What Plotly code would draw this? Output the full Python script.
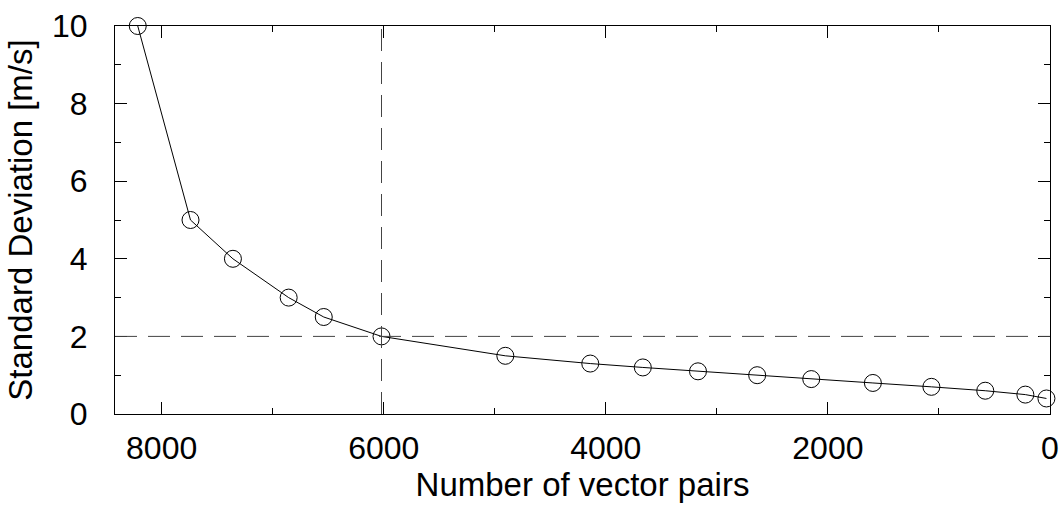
import plotly.graph_objects as go

# Data
pairs = [8215, 7740, 7358, 6856, 6540, 6020, 4905, 4140, 3667, 3170, 2637, 2150, 1595, 1068, 583, 222, 32]
std_dev = [10, 5, 4, 3, 2.5, 2, 1.5, 1.3, 1.2, 1.1, 1.0, 0.9, 0.8, 0.7, 0.6, 0.5, 0.4]
threshold_pairs = 6020
threshold_std = 2
x_tickvals = [8000, 6000, 4000, 2000, 0]
y_tickvals = [0, 2, 4, 6, 8, 10]

FONT = "Liberation Sans, Arial, Helvetica, sans-serif"

fig = go.Figure()
fig.add_trace(go.Scatter(
    x=pairs, y=std_dev, mode="lines+markers",
    line=dict(color="black", width=1),
    marker=dict(symbol="circle-open", size=17, color="black", line=dict(width=1, color="black")),
    showlegend=False, cliponaxis=False,
))

fig.add_shape(type="line", xref="x", yref="paper", x0=threshold_pairs, x1=threshold_pairs, y0=0, y1=1,
              line=dict(color="#444", width=1, dash="22px,11px"))
fig.add_shape(type="line", xref="paper", yref="y", x0=0, x1=1, y0=threshold_std, y1=threshold_std,
              line=dict(color="#444", width=1, dash="22px,11px"))

axis_common = dict(
    showline=True, linecolor="black", linewidth=1, mirror="ticks",
    ticks="inside", ticklen=12, tickwidth=1, tickcolor="black",
    showgrid=False, zeroline=False,
    tickfont=dict(family=FONT, size=32, color="black"),
)

fig.update_xaxes(
    range=[8420, 0], tickvals=x_tickvals, ticktext=[str(v) for v in x_tickvals],
    minor=dict(dtick=1000, ticks="inside", ticklen=6, tickcolor="black", tickwidth=1, showgrid=False),
    title=dict(text="Number of vector pairs", font=dict(family=FONT, size=33, color="black"), standoff=5),
    ticklabelstandoff=6,
    **axis_common,
)
fig.update_yaxes(
    range=[0, 10], tickvals=y_tickvals, ticktext=[str(v) for v in y_tickvals],
    minor=dict(dtick=1, ticks="inside", ticklen=6, tickcolor="black", tickwidth=1, showgrid=False),
    title=dict(text="Standard Deviation [m/s]", font=dict(family=FONT, size=33, color="black"), standoff=9),
    ticklabelstandoff=20,
    **axis_common,
)

fig.update_layout(
    width=1061, height=505,
    margin=dict(l=115, r=11, t=26, b=91, autoexpand=False),
    plot_bgcolor="white", paper_bgcolor="white",
    font=dict(family=FONT, size=32, color="black"),
)

fig.write_html("out.html")
